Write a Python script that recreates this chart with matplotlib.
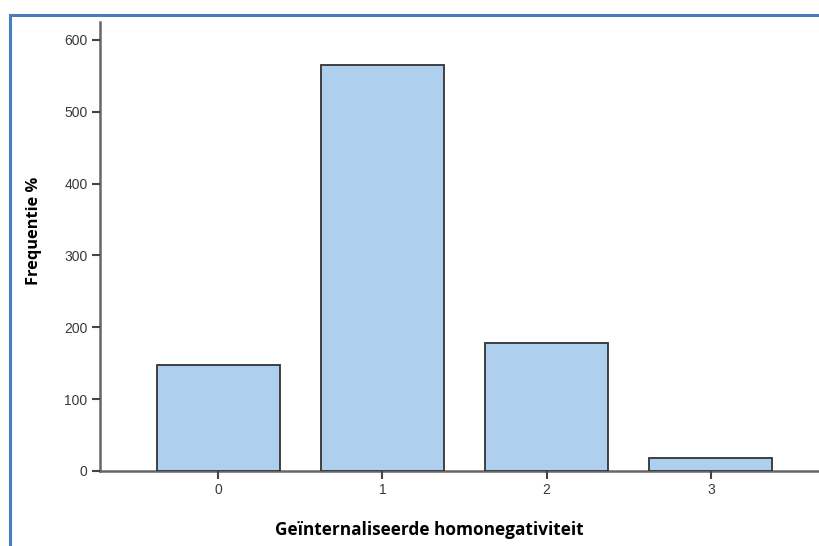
import matplotlib.pyplot as plt
from matplotlib.patches import Rectangle

# data
categories = ['0', '1', '2', '3']
frequencies = [148, 565, 178, 18]
y_ticks = [0, 100, 200, 300, 400, 500, 600]

W, H = 820, 546
fig = plt.figure(figsize=(W / 100, H / 100), dpi=100)

# blue frame of the screenshot (cut off at right and bottom)
fig.add_artist(Rectangle((10 / W, -0.1), 1.2, 1.1 - 15 / H, transform=fig.transFigure,
                         fill=False, edgecolor='#4a7ebb', linewidth=2.2))

ax_left, ax_right, ax_top, ax_bottom = 100, 829, 22, 471
ax = fig.add_axes([ax_left / W, (H - ax_bottom) / H,
                   (ax_right - ax_left) / W, (ax_bottom - ax_top) / H])

x = range(len(categories))
ax.bar(x, frequencies, width=0.75, color='#aecfee', edgecolor='#333333', linewidth=1.3)

ax.set_xlim(-0.72, 3.72)
ax.set_ylim(0, 625)
ax.set_xticks(list(x))
ax.set_xticklabels(categories)
ax.set_yticks(y_ticks)

for side in ['top', 'right']:
    ax.spines[side].set_visible(False)
for side in ['left', 'bottom']:
    ax.spines[side].set_color('#666666')
    ax.spines[side].set_linewidth(1.8)
    ax.spines[side].set_zorder(0.5)

ax.tick_params(axis='both', colors='#444444', width=1.5, length=6,
               labelsize=10, labelcolor='#3a3a3a', pad=3)
for lbl in ax.get_xticklabels() + ax.get_yticklabels():
    lbl.set_family('Liberation Sans')

fig.text(34 / W, 1 - 231 / H, 'Frequentie %', rotation=90, ha='center', va='center',
         fontsize=11.8, fontweight='bold', family='Open Sans')
fig.text(429 / W, 1 - 530 / H, 'Geïnternaliseerde homonegativiteit', ha='center', va='center',
         fontsize=12.4, fontweight='bold', family='Open Sans')

fig.savefig('out.png', dpi=100)
